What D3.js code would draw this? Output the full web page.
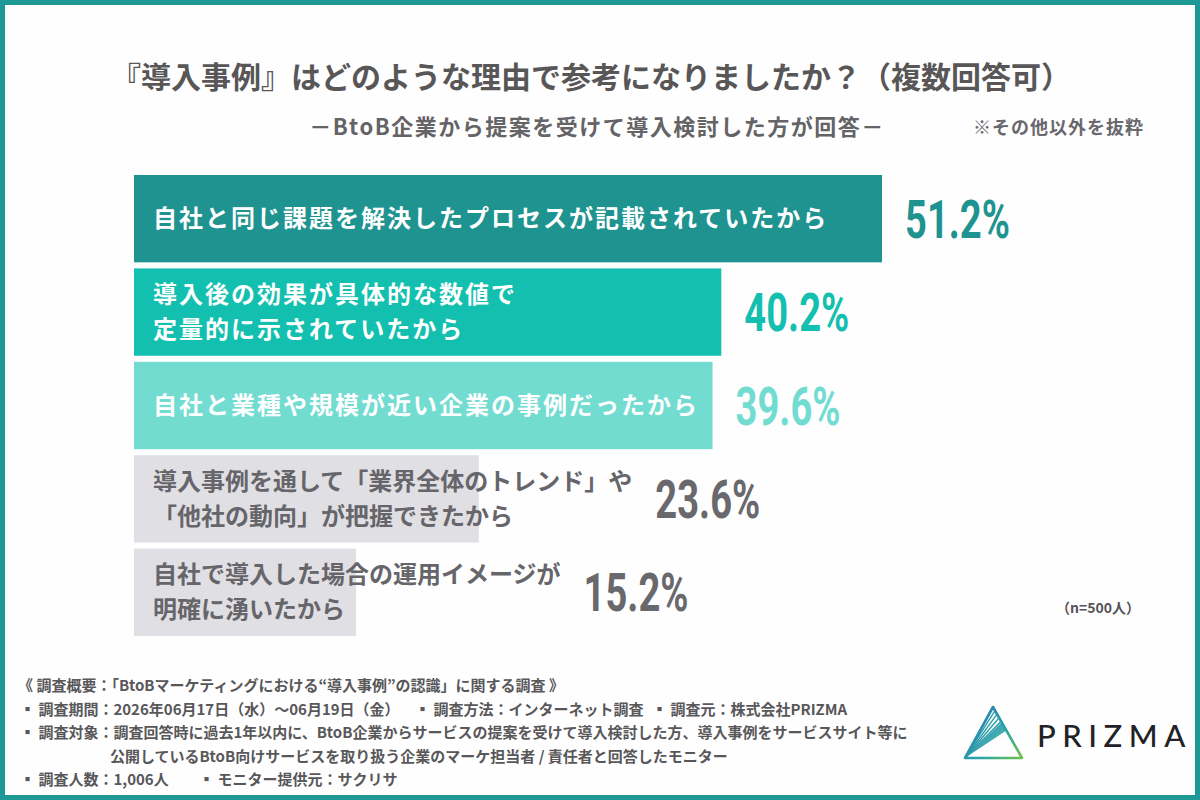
<!DOCTYPE html>
<html>
<head>
<meta charset="utf-8">
<script src="https://cdn.jsdelivr.net/npm/d3@7.9.0/dist/d3.min.js"></script>
<style>
  html, body { margin: 0; padding: 0; background: #fff; }
  svg { display: block; }
  .jp { font-family: "Noto Sans CJK JP", "Noto Sans", sans-serif; }
</style>
</head>
<body>
<div id="chart"></div>
<script>
// chart data
const reasons = [
  ['自社と同じ課題を解決したプロセスが記載されていたから'],
  ['導入後の効果が具体的な数値で', '定量的に示されていたから'],
  ['自社と業種や規模が近い企業の事例だったから'],
  ['導入事例を通して「業界全体のトレンド」や', '「他社の動向」が把握できたから'],
  ['自社で導入した場合の運用イメージが', '明確に湧いたから']
];
const shares = [51.2, 40.2, 39.6, 23.6, 15.2];

const title = '『導入事例』はどのような理由で参考になりましたか？（複数回答可）';
const subtitle = '－BtoB企業から提案を受けて導入検討した方が回答－';
const note = '※その他以外を抜粋';
const sampleNote = '（n=500人）';

const footerLines = [
  [{ t: '《 調査概要：「BtoBマーケティングにおける“導入事例”の認識」に関する調査 》', x: 18 }],
  [{ t: '▪ 調査期間：2026年06月17日（水）～06月19日（金）', x: 20 },
   { t: '▪ 調査方法：インターネット調査', x: 415 },
   { t: '▪ 調査元：株式会社PRIZMA', x: 652 }],
  [{ t: '▪ 調査対象：調査回答時に過去1年以内に、BtoB企業からサービスの提案を受けて導入検討した方、導入事例をサービスサイト等に', x: 20 }],
  [{ t: '公開しているBtoB向けサービスを取り扱う企業のマーケ担当者 / 責任者と回答したモニター', x: 110 }],
  [{ t: '▪ 調査人数：1,006人', x: 20 },
   { t: '▪ モニター提供元：サクリサ', x: 199 }]
];

// styling
const barFill   = ['#1f9390', '#13bfae', '#72dcd1', '#e0dfe4', '#e0dfe4'];
const textFill  = ['#ffffff', '#ffffff', '#ffffff', '#66656a', '#66656a'];
const textTrack = [2, 2, 2, 0, 0];
const valueFill = ['#1f9390', '#13bfae', '#72dcd1', '#69686d', '#69686d'];

const width = 1200;
const height = 800;

const svg = d3.select('#chart')
  .append('svg')
    .attr('width', width)
    .attr('height', height)
    .attr('viewBox', `0 0 ${width} ${height}`);

// background + frame
svg.append('rect')
  .attr('x', 0).attr('y', 0)
  .attr('width', width).attr('height', height)
  .attr('fill', '#fefefe');
svg.append('rect')
  .attr('x', 2.5).attr('y', 2.5)
  .attr('width', width - 5).attr('height', height - 5)
  .attr('fill', 'none')
  .attr('stroke', '#1f9996')
  .attr('stroke-width', 5);

// titles
svg.append('text')
  .attr('class', 'jp')
  .attr('x', 591).attr('y', 88)
  .attr('text-anchor', 'middle')
  .attr('font-size', 30).attr('font-weight', 700)
  .attr('fill', '#585656')
  .text(title);

svg.append('text')
  .attr('class', 'jp')
  .attr('x', 597).attr('y', 135)
  .attr('text-anchor', 'middle')
  .attr('font-size', 22).attr('font-weight', 700)
  .attr('letter-spacing', 1.5)
  .attr('fill', '#646366')
  .text(subtitle);

svg.append('text')
  .attr('class', 'jp')
  .attr('x', 973).attr('y', 134)
  .attr('font-size', 18).attr('font-weight', 700)
  .attr('letter-spacing', 1)
  .attr('fill', '#69686d')
  .text(note);

// scales
const x = d3.scaleLinear()
  .domain([0, 51.2])
  .range([134, 882]);

const y = d3.scaleBand()
  .domain(d3.range(shares.length))
  .range([175, 636])
  .paddingInner(0.065)
  .paddingOuter(0);

const rows = svg.append('g')
  .selectAll('g')
  .data(shares)
  .join('g')
    .attr('transform', (d, i) => `translate(0,${y(i)})`);

rows.append('rect')
  .attr('x', x(0))
  .attr('y', 0)
  .attr('width', d => x(d) - x(0))
  .attr('height', y.bandwidth())
  .attr('fill', (d, i) => barFill[i]);

const labels = rows.append('text')
  .attr('class', 'jp')
  .attr('font-size', 24)
  .attr('font-weight', 700)
  .attr('letter-spacing', (d, i) => textTrack[i])
  .attr('fill', (d, i) => textFill[i]);

labels.each(function(d, i) {
  const lines = reasons[i];
  const mid = y.bandwidth() / 2;
  d3.select(this).selectAll('tspan')
    .data(lines)
    .join('tspan')
      .attr('x', 153)
      .attr('y', (l, j) => mid + (j - (lines.length - 1) / 2) * 35)
      .attr('dy', '0.36em')
      .text(l => l);
});

// value labels placed after whichever is longer, bar or text
rows.each(function(d, i) {
  const g = d3.select(this);
  let textEnd = 0;
  g.selectAll('tspan').each(function() {
    textEnd = Math.max(textEnd, 153 + this.getComputedTextLength());
  });
  const lx = Math.max(x(d), textEnd) + 23;
  g.append('text')
    .attr('transform', `translate(${lx},${y.bandwidth() / 2 + 19}) scale(0.72,1)`)
    .attr('font-family', 'Roboto, "DejaVu Sans", sans-serif')
    .attr('font-size', 53)
    .attr('font-weight', 700)
    .attr('fill', valueFill[i])
    .text(d.toFixed(1) + '%');
});

svg.append('text')
  .attr('class', 'jp')
  .attr('x', 1140).attr('y', 613)
  .attr('text-anchor', 'end')
  .attr('font-size', 14).attr('font-weight', 700)
  .attr('fill', '#555458')
  .text(sampleNote);

// footer
const footer = svg.append('g').attr('class', 'jp')
  .attr('font-size', 15)
  .attr('font-weight', 700)
  .attr('fill', '#58575a');

footerLines.forEach((parts, i) => {
  footer.selectAll(null)
    .data(parts)
    .join('text')
      .attr('x', p => p.x)
      .attr('y', 691 + i * 23.6)
      .text(p => p.t);
});

// logo
const defs = svg.append('defs');
const grad = defs.append('linearGradient')
  .attr('id', 'logoGrad')
  .attr('x1', '0%').attr('y1', '20%')
  .attr('x2', '100%').attr('y2', '100%');
grad.append('stop').attr('offset', '0%').attr('stop-color', '#2a78b8');
grad.append('stop').attr('offset', '55%').attr('stop-color', '#2aa3a6');
grad.append('stop').attr('offset', '100%').attr('stop-color', '#6cc24a');

const apex = [993, 707], bl = [965, 758], br = [1022, 758];
const logo = svg.append('g');
const onRight = t => [apex[0] + (br[0] - apex[0]) * t, apex[1] + (br[1] - apex[1]) * t];

logo.append('polygon')
  .attr('points', [bl, onRight(0.3), onRight(0.46)].map(p => p.join(',')).join(' '))
  .attr('fill', 'url(#logoGrad)')
  .attr('opacity', 0.9);

[0.07, 0.14, 0.21, 0.28].forEach(t => {
  logo.append('line')
    .attr('x1', bl[0]).attr('y1', bl[1])
    .attr('x2', onRight(t)[0]).attr('y2', onRight(t)[1])
    .attr('stroke', 'url(#logoGrad)')
    .attr('stroke-width', 1.4);
});

logo.append('polygon')
  .attr('points', [apex, bl, br].map(p => p.join(',')).join(' '))
  .attr('fill', 'none')
  .attr('stroke', 'url(#logoGrad)')
  .attr('stroke-width', 2.6)
  .attr('stroke-linejoin', 'round');

svg.append('text')
  .attr('x', 1037).attr('y', 747)
  .attr('font-family', 'Lato, "Open Sans", sans-serif')
  .attr('font-size', 31)
  .attr('font-weight', 500)
  .attr('letter-spacing', 6.5)
  .attr('fill', '#222226')
  .text('PRIZMA');
</script>
</body>
</html>
